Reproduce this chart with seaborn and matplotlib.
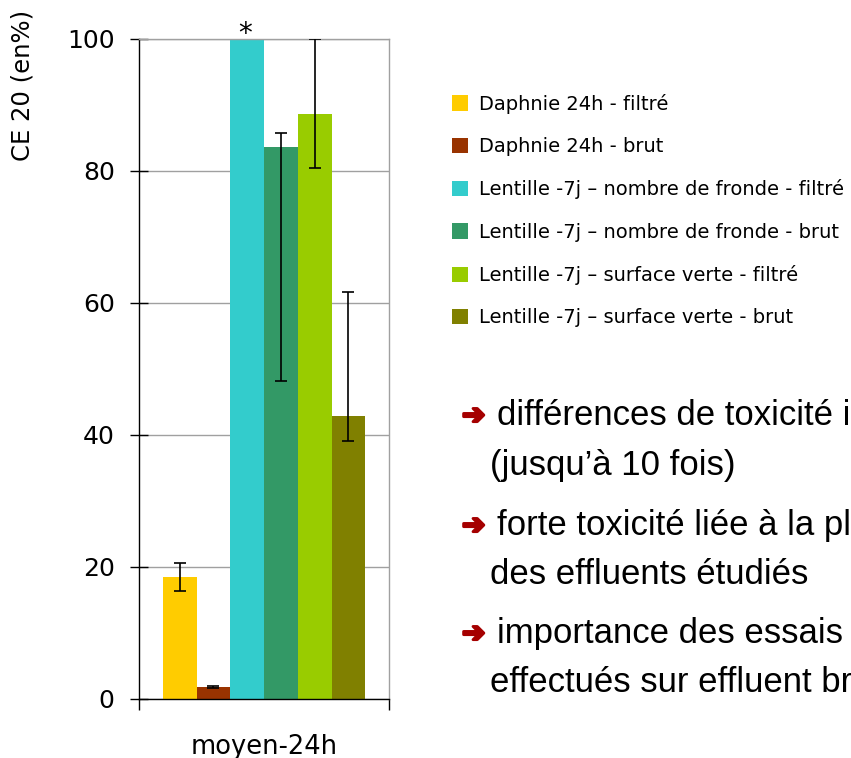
import matplotlib
matplotlib.use("Agg")
import matplotlib.pyplot as plt
import matplotlib.patheffects as pe
import seaborn as sns
import pandas as pd
import numpy as np

# ---- data ----
series = ["Daphnie 24h - filtré",
          "Daphnie 24h - brut",
          "Lentille -7j – nombre de fronde - filtré",
          "Lentille -7j – nombre de fronde - brut",
          "Lentille -7j – surface verte - filtré",
          "Lentille -7j – surface verte - brut"]
ce20 = [18.5, 1.8, 100.0, 83.6, 88.7, 42.9]
err_low = [16.4, 1.6, 100.0, 48.2, 80.4, 39.1]    # bas de la barre d'erreur
err_high = [20.6, 2.0, 100.0, 85.8, 100.0, 61.6]  # haut de la barre d'erreur
colors = ["#FFCC00", "#993300", "#33CCCC", "#339966", "#99CC00", "#808000"]
category = "moyen-24h"
yticks = [0, 20, 40, 60, 80, 100]

bullets = [("différences de toxicité importantes", "(jusqu’à 10 fois)"),
           ("forte toxicité liée à la plupart", "des effluents étudiés"),
           ("importance des essais", "effectués sur effluent brut")]

df = pd.DataFrame({"periode": [category] * len(series), "serie": series, "ce20": ce20})

sns.set_style("white")
plt.rcParams["font.family"] = ["DejaVu Sans"]
plt.rcParams["text.color"] = "black"
plt.rcParams["axes.labelcolor"] = "black"
plt.rcParams["xtick.color"] = "black"
plt.rcParams["ytick.color"] = "black"

fig = plt.figure(figsize=(8.51, 7.58), dpi=100)
ax = fig.add_axes([139 / 851, 1 - 699 / 758, 250 / 851, 660 / 758])

sns.barplot(data=df, x="periode", y="ce20", hue="serie", hue_order=series,
            palette=colors, width=0.81, saturation=1, linewidth=0,
            ax=ax, legend=False)

# barres d'erreur asymetriques
bars = ax.patches[:len(series)]
for bar, m, lo, hi in zip(bars, ce20, err_low, err_high):
    if hi - lo <= 0:
        continue
    xc = bar.get_x() + bar.get_width() / 2
    ax.errorbar(xc, m, yerr=[[m - lo], [hi - m]], fmt="none", ecolor="black",
                elinewidth=1.2, capsize=4.5, capthick=1.2, zorder=5)

# asterisque au-dessus de la barre a 100
cyan = bars[2]
ax.text(cyan.get_x() + cyan.get_width() / 2 - 0.01, 98.6, "*", ha="center", va="bottom",
        fontsize=20, clip_on=False)

ax.set_ylim(0, 100)
ax.set_xlim(-0.5, 0.5)
ax.set_yticks(yticks)
ax.tick_params(axis="y", direction="inout", length=13, width=1,
               labelsize=18, pad=11, left=True)
ax.yaxis.grid(True, color="#A0A0A0", linewidth=1)
ax.set_axisbelow(True)

ax.set_xticks([0])
ax.set_xticklabels([category], fontsize=18.5)
ax.set_xticks([-0.5, 0.5], minor=True)
ax.tick_params(axis="x", which="major", length=0, pad=25)
ax.tick_params(axis="x", which="minor", direction="out", length=8, width=1,
               bottom=True)
ax.set_xlabel("")

ax.set_ylabel("CE 20 (en%)", fontsize=17.5)
ax.yaxis.set_label_coords(-0.42, 0.93)

for side in ["left", "bottom"]:
    ax.spines[side].set_color("black")
    ax.spines[side].set_linewidth(1)
for side in ["right", "top"]:
    ax.spines[side].set_visible(True)
    ax.spines[side].set_color("#A0A0A0")
    ax.spines[side].set_linewidth(1)

# legende a droite
fig.legend(bars, series, loc="upper left", bbox_to_anchor=(444 / 851, 1 - 86 / 758),
           frameon=False, fontsize=14, handlelength=0.85, handleheight=0.85,
           handletextpad=0.55, labelspacing=1.2, borderaxespad=0)

# texte a puces
line_y = [415, 465, 525, 575, 633, 683]
for i, (l1, l2) in enumerate(bullets):
    y1 = 1 - line_y[2 * i] / 758
    y2 = 1 - line_y[2 * i + 1] / 758
    fig.text(462 / 851, y1 - 0.001, "➔", color="#A50000", fontsize=20, va="center",
             family="DejaVu Sans",
             path_effects=[pe.withStroke(linewidth=2, foreground="#A50000")])
    fig.text(497 / 851, y1, l1, fontsize=25, va="center", family="Liberation Sans")
    fig.text(490 / 851, y2, l2, fontsize=25, va="center", family="Liberation Sans")

fig.savefig("out.png", dpi=100)
